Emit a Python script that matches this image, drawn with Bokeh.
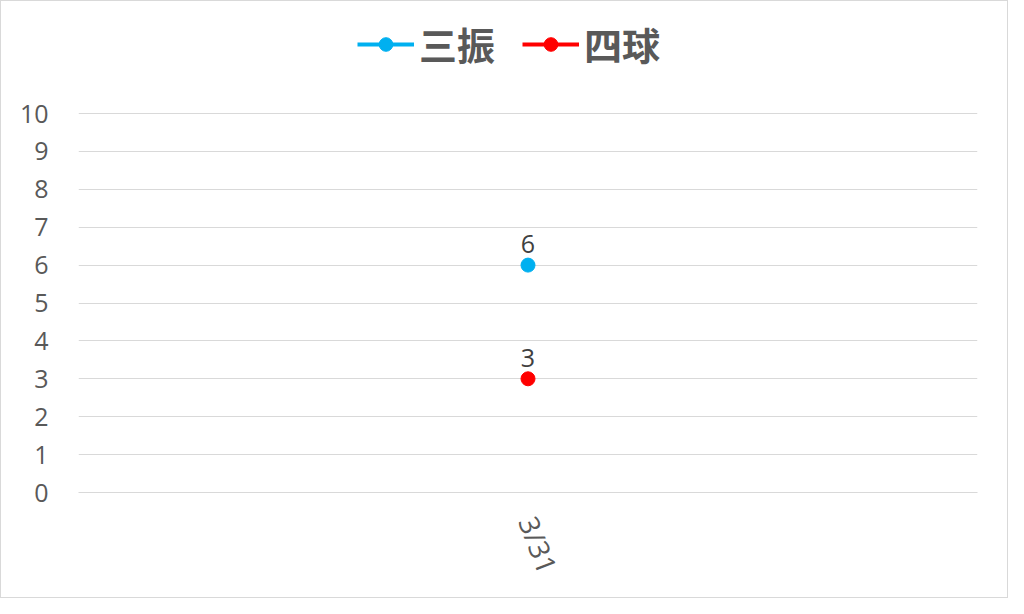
from bokeh.plotting import figure
from bokeh.models import ColumnDataSource, FixedTicker, Legend, LegendItem, Range1d, FactorRange, LabelSet
from bokeh.embed import file_html
from bokeh.resources import INLINE
from bokeh.core.properties import value

dates = ["3/31"]
strikeouts = [6]
walks = [3]
y_ticks = list(range(0, 11))
series_names = ["三振", "四球"]
colors = ["#00B0F0", "#FF0000"]

W, H = 1008, 598
BL, BR, BT, BB = 77, 32, 4, 107
GRID_TOP = 112                      # pixel row of the "10" gridline
px_per_unit = (H - BB - GRID_TOP) / 10.0
y_end = 10 + (GRID_TOP - BT) / px_per_unit

p = figure(width=W, height=H, output_backend="svg", toolbar_location=None,
           x_range=FactorRange(*dates), y_range=Range1d(0, y_end),
           min_border_left=BL, min_border_right=BR, min_border_top=BT, min_border_bottom=BB)
p.styles = {"border": "1px solid #d9d9d9"}
p.outline_line_color = None
p.background_fill_color = "white"
p.border_fill_color = "white"

p.yaxis.ticker = FixedTicker(ticks=y_ticks)
p.yaxis.axis_line_color = None
p.yaxis.major_tick_line_color = None
p.yaxis.minor_tick_line_color = None
p.yaxis.major_label_text_font = "Open Sans"
p.yaxis.major_label_text_font_size = "25px"
p.yaxis.major_label_text_color = "#595959"
p.yaxis.major_label_standoff = 24

p.xaxis.axis_line_color = "#d9d9d9"
p.xaxis.major_tick_line_color = None
p.xaxis.minor_tick_line_color = None
p.xaxis.major_label_text_font = "Open Sans"
p.xaxis.major_label_text_font_size = "28px"
p.xaxis.major_label_text_color = "#595959"
p.xaxis.major_label_orientation = -1.2
p.xaxis.major_label_standoff = 19

p.xgrid.grid_line_color = None
p.ygrid.grid_line_color = "#d9d9d9"
p.ygrid.grid_line_width = 1

renderers = []
for vals, c in zip([strikeouts, walks], colors):
    src = ColumnDataSource(dict(x=dates, y=vals, t=[str(v) for v in vals]))
    ln = p.line("x", "y", source=src, line_color=c, line_width=4)
    sc = p.scatter("x", "y", source=src, size=14, fill_color=c, line_color=c)
    renderers.append([ln, sc])
    lbl = LabelSet(x="x", y="y", text="t", source=src, y_offset=12, text_align="center",
                   text_baseline="bottom", text_font=value("Open Sans"),
                   text_font_size="25px", text_color="#404040")
    p.add_layout(lbl)

items = [LegendItem(label=n, renderers=r) for n, r in zip(series_names, renderers)]
legend = Legend(items=items, orientation="horizontal",
                location=(279, (H - BB) - 46 - 24),
                label_text_font="Noto Sans CJK JP", label_text_font_size="38px",
                label_text_font_style="bold", label_text_color="#595959",
                label_text_baseline="middle",
                glyph_width=57, glyph_height=34, label_standoff=5, spacing=27,
                padding=6, margin=0, border_line_color=None, background_fill_alpha=0,
                label_height=40)
p.add_layout(legend, "center")

open("out.html", "w").write(file_html(p, INLINE))
